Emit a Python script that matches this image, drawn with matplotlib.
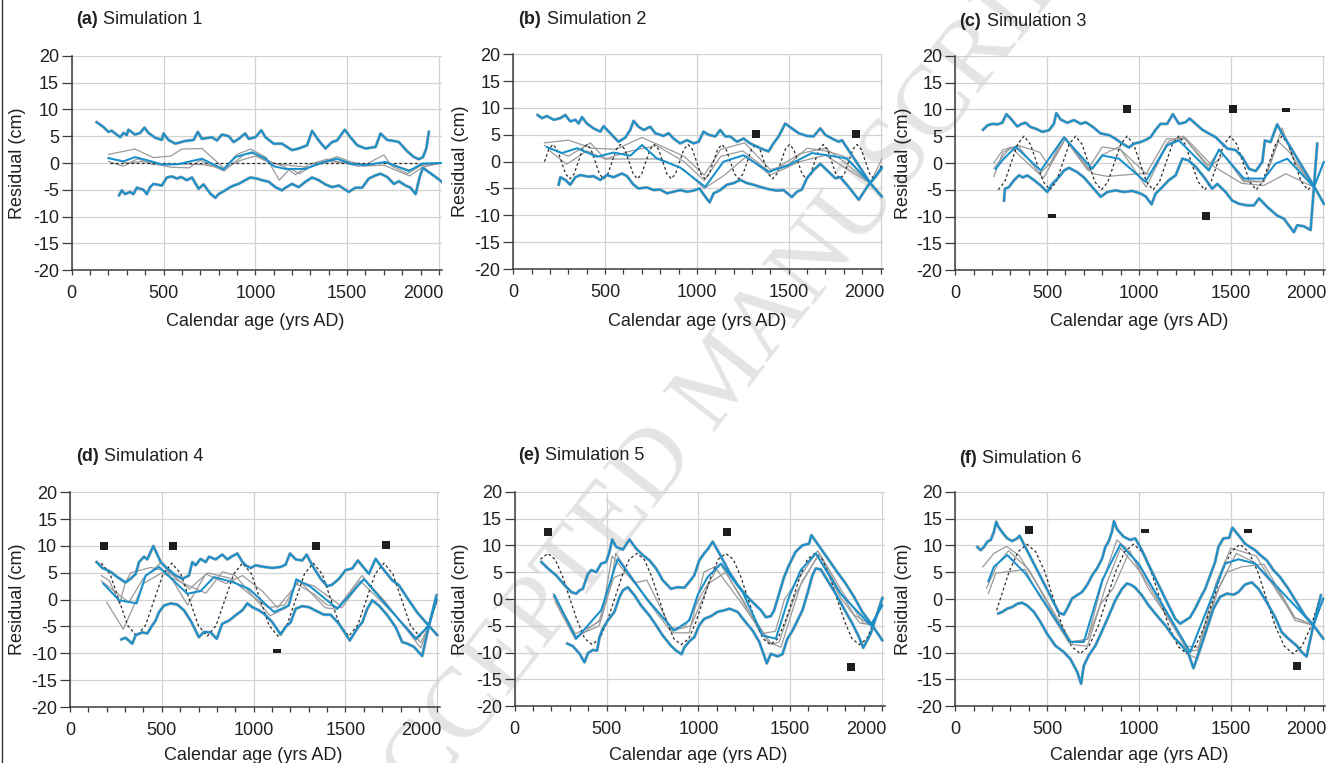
import matplotlib
matplotlib.use("Agg")
import matplotlib.pyplot as plt
from matplotlib.lines import Line2D

plt.rcParams['font.family'] = ['Liberation Sans', 'DejaVu Sans']
plt.rcParams['axes.unicode_minus'] = False

# ---------------------------------------------------------------- data
# (a) Simulation 1
a_up_yr = [136,173,200,218,264,282,300,309,345,373,396,418,455,491,500,527,564,618,664,687,709,764,791,818,855,882,909,945,964,1000,1033,1055,1100,1145,1200,1236,1282,1309,1345,1382,1418,1445,1487,1518,1555,1600,1655,1682,1718,1755,1782,1827,1864,1891,1913,1931,1945]
a_up_cm = [7.6,6.7,5.8,6.0,4.8,5.6,5.2,6.2,5.3,5.6,6.6,5.6,4.7,4.3,5.5,4.3,3.6,4.1,4.3,5.8,4.5,4.8,4.2,5.3,5.0,3.9,4.5,5.5,4.5,4.8,6.1,4.8,3.6,3.6,2.4,2.7,3.3,6.0,4.2,2.7,3.9,4.2,6.2,4.8,3.3,2.7,3.0,5.5,4.3,4.1,3.9,2.2,1.1,0.7,1.1,2.7,5.8]
a_lo_yr = [258,273,291,318,336,355,391,409,427,445,491,518,545,573,596,627,655,691,718,755,782,800,836,858,882,909,945,973,1009,1036,1073,1109,1145,1164,1200,1236,1273,1309,1345,1382,1418,1455,1509,1545,1582,1618,1655,1682,1718,1755,1782,1818,1845,1873,1895,1913,1945,1982,2015]
a_lo_cm = [-6.0,-5.1,-5.8,-5.4,-5.8,-4.6,-5.0,-5.8,-4.5,-3.9,-4.2,-2.7,-2.5,-2.9,-2.6,-3.2,-2.7,-4.8,-4.0,-5.7,-6.5,-5.8,-5.1,-4.6,-4.2,-3.9,-3.2,-2.7,-2.9,-3.2,-3.5,-4.5,-5.1,-4.6,-3.9,-4.5,-3.5,-2.7,-3.2,-4.0,-4.5,-4.2,-5.4,-4.6,-4.6,-2.9,-2.3,-2.0,-2.6,-3.9,-3.4,-4.2,-4.6,-5.8,-2.6,-0.9,-1.7,-2.6,-3.5]
a_mid_yr = [200,282,345,445,491,582,709,827,891,982,1055,1100,1164,1273,1345,1445,1527,1600,1709,1836,1909,2015]
a_mid_cm = [0.9,0.3,1.1,0.2,-0.3,-0.2,0.8,-1.2,1.1,2.0,0.8,-0.6,-1.1,-1.1,-0.1,0.8,-0.2,-0.4,0.2,-1.5,-0.1,0.0]
a_g1_yr = [200,345,445,540,600,710,830,900,975,1060,1130,1190,1240,1310,1350,1445,1520,1600,1700,1740,1830,1900,2015]
a_g1_cm = [1.6,2.6,1.0,1.3,2.6,2.7,-1.0,1.6,2.6,1.0,-3.2,-1.0,-2.0,-0.5,0.0,1.2,0.2,-0.3,1.5,-0.5,-2.0,-0.5,0.0]
a_g2_yr = [200,300,400,540,640,700,830,940,990,1070,1160,1220,1290,1390,1460,1560,1700,1840,1910,2015]
a_g2_cm = [1.0,0.0,0.3,-0.8,-0.9,0.5,-1.5,1.6,1.8,0.4,-0.7,-2.2,-0.3,0.7,0.2,-0.6,-0.4,-2.4,-0.8,0.0]
a_g3_yr = [200,280,360,440,560,620,710,830,920,1000,1080,1200,1300,1400,1500,1600,1700,1840,1920,2015]
a_g3_cm = [0.3,-0.6,0.8,-0.3,-0.3,-0.2,-0.3,-1.0,0.5,1.3,0.0,-0.5,-0.8,0.3,0.0,-0.3,0.1,-1.3,-0.3,0.0]
a_true_yr = [210, 2000]
a_true_cm = [0.0, 0.0]
a_sq_yr, a_sq_cm = [], []
a_bar_yr, a_bar_cm = [], []

# (b) Simulation 2
b_up_yr = [132,156,183,220,256,283,310,338,356,374,401,437,474,492,528,573,610,637,655,682,710,746,773,818,846,873,909,946,982,1009,1036,1064,1100,1127,1154,1181,1218,1254,1290,1345,1390,1417,1445,1481,1517,1554,1599,1635,1672,1699,1736,1772,1790,1944,2007]
b_up_cm = [8.7,8.1,8.5,7.8,8.1,8.7,7.5,7.8,7.1,8.3,7.1,6.2,5.6,6.6,5.3,3.7,4.5,5.9,7.6,6.5,5.9,6.5,5.3,4.8,5.3,4.3,3.4,4.0,3.4,3.7,5.6,5.0,4.7,5.9,4.7,4.7,3.7,4.3,3.4,2.5,1.9,3.4,4.7,7.1,6.2,5.3,4.8,4.7,6.2,5.0,4.3,3.7,4.0,-4.0,-6.5]
b_lo_yr = [247,256,283,310,338,365,410,437,474,510,546,592,619,655,682,728,764,800,837,873,909,946,982,1014,1045,1069,1091,1127,1163,1200,1236,1272,1308,1354,1399,1435,1472,1517,1545,1571,1599,1635,1672,1708,1754,1781,1826,1881,1935,1972,2007]
b_lo_cm = [-4.3,-2.9,-3.4,-4.3,-2.9,-2.5,-2.8,-2.7,-3.4,-2.5,-2.9,-2.2,-2.7,-4.3,-5.0,-4.8,-5.3,-5.2,-5.9,-5.6,-5.3,-5.6,-5.4,-5.0,-6.5,-7.6,-5.9,-5.3,-4.3,-4.0,-3.4,-4.0,-4.3,-4.8,-5.2,-5.4,-5.3,-6.6,-5.6,-5.2,-3.1,-1.6,-0.4,-1.6,-3.1,-2.9,-4.7,-7.1,-4.3,-2.8,-1.1]
b_mid_yr = [183,265,347,456,546,637,701,782,909,1045,1145,1254,1390,1490,1626,1708,1817,1944,2007]
b_mid_cm = [2.7,1.6,2.5,0.9,1.7,1.1,3.1,0.6,-1.1,-4.7,0.0,1.2,-1.9,-0.8,1.6,1.2,0.6,-4.0,-1.2]
b_g1_yr = [170,300,430,560,700,800,930,1040,1130,1260,1400,1500,1600,1700,1800,1944,2007]
b_g1_cm = [3.5,4.0,2.5,2.3,4.5,3.0,1.0,-2.5,2.3,3.5,-1.5,-0.5,2.5,2.0,1.0,-4.0,0.5]
b_g2_yr = [170,300,420,500,640,780,930,1040,1130,1250,1400,1560,1700,1800,1944,2007]
b_g2_cm = [3.0,1.0,3.5,0.5,2.0,3.0,0.0,-3.5,1.0,2.0,-2.0,1.5,2.5,0.0,-4.0,-1.0]
b_g3_yr = [200,290,400,500,620,800,930,1040,1150,1270,1400,1560,1700,1800,1944,2007]
b_g3_cm = [2.0,-0.5,2.0,0.5,0.5,0.5,-1.5,-5.0,-2.5,1.0,-2.5,0.0,1.2,-1.0,-4.0,-1.5]
b_true_yr = [170,193,216,239,262,285,308,331,354,377,400,423,446,469,492,515,
             538,561,584,607,630,653,676,699,722,745,768,791,814,837,860,883,
             906,929,952,975,998,1021,1044,1067,1090,1113,1136,1159,1182,1205,1228,1251,
             1274,1297,1320,1343,1366,1389,1412,1435,1458,1481,1504,1527,1550,1573,1596,1619,
             1642,1665,1688,1711,1734,1757,1780,1803,1826,1849,1872,1895,1918,1941,1964,1987,2005]
b_true_cm = [0,2.3,3.2,2.3,0,-2.3,-3.2,-2.3, 0,2.3,3.2,2.3,0,-2.3,-3.2,-2.3,
             0,2.3,3.2,2.3,0,-2.3,-3.2,-2.3, 0,2.3,3.2,2.3,0,-2.3,-3.2,-2.3,
             0,2.3,3.2,2.3,0,-2.3,-3.2,-2.3, 0,2.3,3.2,2.3,0,-2.3,-3.2,-2.3,
             0,2.3,3.2,2.3,0,-2.3,-3.2,-2.3, 0,2.3,3.2,2.3,0,-2.3,-3.2,-2.3,
             0,2.3,3.2,2.3,0,-2.3,-3.2,-2.3, 0,2.3,3.2,2.3,0,-2.3,-3.2,-2.3,-0.6]
b_sq_yr = [1323, 1867]
b_sq_cm = [5.1, 5.1]
b_bar_yr, b_bar_cm = [], []

# (c) Simulation 3
c_up_yr = [151,175,202,229,256,278,301,338,361,383,410,438,474,510,537,550,574,610,646,683,710,746,792,837,873,910,946,973,1009,1036,1063,1091,1118,1154,1185,1218,1254,1276,1309,1345,1381,1418,1454,1481,1527,1563,1600,1636,1672,1686,1717,1753,1780,1953,2007]
c_up_cm = [6.2,7.0,7.3,7.2,7.5,9.1,8.3,6.8,7.3,7.5,6.7,6.4,5.8,6.1,7.3,9.3,8.1,7.5,8.0,7.3,7.6,6.8,5.5,5.2,4.5,3.6,2.9,3.6,3.9,4.3,4.8,6.2,7.3,7.3,9.1,7.3,7.6,8.3,7.3,6.2,5.5,4.8,3.6,2.7,2.4,1.1,-1.1,-1.5,0.2,4.2,3.9,7.2,5.5,-4.3,-7.6]
c_lo_yr = [265,270,292,320,347,369,392,429,465,501,528,565,592,619,664,701,746,792,828,873,918,964,1009,1036,1069,1091,1127,1163,1200,1236,1269,1309,1354,1399,1427,1472,1508,1545,1590,1626,1654,1699,1753,1790,1844,1862,1899,1935,1953,1971]
c_lo_cm = [-7.0,-4.8,-4.5,-3.2,-2.3,-2.7,-2.3,-3.2,-4.2,-5.4,-3.9,-2.6,-1.4,-0.9,-1.7,-2.7,-4.5,-6.3,-5.4,-5.1,-5.4,-5.2,-5.7,-6.2,-7.7,-5.7,-4.5,-3.2,-2.3,0.8,0.5,-0.7,-2.6,-4.8,-3.9,-5.4,-7.0,-7.6,-7.9,-7.9,-6.6,-8.2,-9.8,-10.4,-12.9,-11.6,-11.8,-12.5,-4.5,3.6]
c_mid_yr = [220,256,329,465,592,746,801,891,1036,1154,1218,1381,1436,1572,1681,1745,1808,1953,2007]
c_mid_cm = [-1.1,0.5,3.0,-1.4,4.8,-1.1,1.4,0.8,-3.5,3.3,4.2,-1.4,2.5,-2.9,-2.9,-0.1,0.8,-4.5,0.2]
c_g1_yr = [210,260,350,460,510,590,720,800,900,1040,1150,1250,1380,1440,1570,1680,1760,1820,1953,2007]
c_g1_cm = [0.0,2.5,3.2,2.0,-0.5,4.8,-1.3,3.0,2.5,-2.0,4.5,4.5,-0.5,2.5,-3.5,-3.5,4.0,2.0,-4.5,0.2]
c_g2_yr = [210,260,340,460,530,600,730,800,890,1040,1160,1240,1380,1460,1570,1680,1780,1850,1953,2007]
c_g2_cm = [-2.5,2.0,3.3,-2.0,0.5,4.7,-1.5,1.5,3.0,-4.5,4.0,5.0,-1.0,1.5,-3.2,-3.5,6.5,0.0,-4.5,0.2]
c_g3_yr = [210,300,480,600,750,830,1000,1060,1150,1250,1400,1560,1680,1800,1953,2007]
c_g3_cm = [-1.0,3.0,-2.8,4.5,-2.0,-2.5,-2.0,-2.0,3.5,4.8,-0.5,-3.8,-4.2,-2.0,-4.5,0.2]
c_true_yr = [234,269,304,339,374,409,444,479,515,550,585,620,655,690,725,760,
             796,831,866,901,936,971,1006,1041,1077,1112,1147,1182,1217,1252,1287,1322,
             1358,1393,1428,1463,1498,1533,1568,1603,1639,1674,1709,1744,1779,1814,1849,1884,1920,1950]
c_true_cm = [-5,-3.5,0,3.5,5,3.5,0,-3.5, -5,-3.5,0,3.5,5,3.5,0,-3.5,
             -5,-3.5,0,3.5,5,3.5,0,-3.5, -5,-3.5,0,3.5,5,3.5,0,-3.5,
             -5,-3.5,0,3.5,5,3.5,0,-3.5, -5,-3.5,0,3.5,5,3.5,0,-3.5,-5,-4.0]
c_sq_yr = [936, 1510, 1363]
c_sq_cm = [10.0, 10.0, -9.9]
c_bar_yr = [1802, 528]
c_bar_cm = [9.8, -9.9]

# (d) Simulation 4
d_up_yr = [145,176,221,258,303,330,358,376,403,421,454,494,530,575,612,648,666,684,711,739,757,793,829,857,884,911,938,956,984,1011,1056,1102,1147,1174,1198,1229,1265,1289,1319,1365,1401,1428,1465,1501,1537,1568,1601,1628,1664,1710,1755,1791,1837,1891,1937,2000]
d_up_cm = [7.0,5.9,5.2,4.2,3.2,3.9,4.8,7.0,8.0,7.5,10.0,7.0,5.8,4.5,3.9,4.5,7.0,6.4,7.6,7.0,8.0,7.5,8.4,7.5,8.1,8.6,7.1,6.4,5.9,6.4,6.1,5.9,6.1,6.5,8.6,7.5,7.3,8.4,6.4,3.9,2.5,2.8,3.9,5.5,5.8,7.3,5.9,4.8,7.6,5.5,3.6,2.7,0.3,-2.4,-4.2,-6.6]
d_lo_yr = [280,303,339,358,394,421,448,466,485,512,548,584,621,657,702,730,766,799,829,866,902,938,966,993,1029,1056,1102,1147,1174,1202,1229,1265,1301,1347,1383,1419,1465,1524,1564,1592,1619,1646,1682,1728,1773,1809,1837,1873,1918,1955,1996]
d_lo_cm = [-7.4,-7.1,-8.2,-6.6,-6.1,-6.3,-4.8,-3.9,-2.3,-1.1,-0.7,-0.9,-2.0,-3.9,-7.0,-6.0,-6.1,-7.3,-4.5,-3.9,-2.9,-2.0,-0.7,-1.4,-2.0,-2.6,-4.2,-6.5,-5.1,-4.2,-1.7,-1.2,-1.4,-2.2,-2.8,-2.8,-4.5,-7.6,-5.4,-4.2,-1.7,-0.1,-1.1,-2.9,-5.1,-7.9,-8.2,-8.8,-10.5,-4.8,0.8]
d_mid_yr = [181,267,363,412,485,639,711,784,884,975,1111,1192,1232,1310,1456,1601,1882,1955,1996]
d_mid_cm = [3.0,-0.1,-0.7,4.5,6.1,1.1,1.6,4.2,3.3,2.0,-2.3,-1.1,3.8,2.4,-1.7,3.8,-7.3,-4.8,0.1]
d_g1_yr = [170,215,270,300,330,440,535,650,750,870,980,1080,1170,1240,1330,1470,1590,1700,1820,1890,1955,2000]
d_g1_cm = [4.5,3.5,-0.8,3.0,5.0,6.0,5.2,2.0,5.0,4.0,1.0,-1.5,-1.0,3.5,2.5,-1.0,4.5,0.0,-5.0,-7.5,-4.8,0.0]
d_g2_yr = [170,320,400,500,640,740,850,940,1050,1130,1250,1390,1450,1580,1700,1830,1910,1955,2000]
d_g2_cm = [3.5,-0.5,4.0,7.0,-1.0,4.8,3.0,4.5,1.5,-1.5,3.5,-1.5,-1.8,3.5,-0.5,-5.0,-8.0,-4.8,0.0]
d_g3_yr = [200,290,330,400,500,620,740,830,900,1000,1090,1180,1230,1330,1400,1480,1600,1720,1820,1910,1955,2000]
d_g3_cm = [-0.5,-5.5,-2.5,3.0,5.0,3.0,1.2,5.2,4.5,0.5,-3.0,-1.5,3.0,1.0,-1.0,-1.5,4.0,-0.5,-5.0,-9.0,-4.8,0.0]
d_true_yr = [170,218,266,314,363,411,459,507, 555,603,651,699,748,796,844,892,
             940,988,1036,1084,1133,1181,1229,1277, 1325,1373,1421,1469,1518,1566,1614,1662,
             1710,1758,1806,1854,1903,1951,1999]
d_true_cm = [6.8,4.8,0,-4.8,-6.8,-4.8,0,4.8, 6.8,4.8,0,-4.8,-6.8,-4.8,0,4.8,
             6.8,4.8,0,-4.8,-6.8,-4.8,0,4.8, 6.8,4.8,0,-4.8,-6.8,-4.8,0,4.8,
             6.8,4.8,0,-4.8,-6.8,-4.8,0]
d_sq_yr = [186, 561, 1338, 1719]
d_sq_cm = [10.0, 10.0, 10.0, 10.1]
d_bar_yr = [1126]
d_bar_cm = [-9.6]

# (e) Simulation 5
e_up_yr = [145,181,226,271,308,335,353,371,399,417,444,471,498,516,531,553,589,625,661,697,734,770,806,851,887,924,951,978,1005,1032,1054,1078,1124,1169,1214,1259,1296,1341,1368,1395,1413,1440,1467,1494,1530,1567,1603,1616,1667,1712,1757,1802,1848,1893,1947,2002]
e_up_cm = [6.9,5.7,4.4,2.6,1.3,1.0,1.6,1.9,4.7,5.4,5.0,6.6,6.9,8.8,11.1,9.7,9.2,11.1,9.4,8.2,7.2,5.7,3.5,1.9,2.2,2.1,3.2,4.4,7.2,8.5,9.4,10.7,7.9,5.0,2.6,0.7,-0.6,-2.1,-3.4,-3.2,-2.1,1.0,4.1,6.3,8.8,10.0,10.3,11.9,9.4,7.2,5.0,2.9,0.4,-2.4,-4.9,-7.7]
e_lo_yr = [286,317,353,380,399,425,449,462,480,507,543,571,589,616,652,688,734,770,806,851,878,909,924,951,978,1005,1032,1069,1105,1142,1169,1214,1250,1296,1332,1373,1395,1431,1458,1485,1513,1540,1567,1594,1621,1640,1667,1703,1748,1793,1839,1875,1898,1938,1965,2002]
e_lo_cm = [-8.3,-8.8,-10.2,-11.8,-10.1,-9.5,-9.6,-7.1,-5.5,-4.0,-2.4,0.4,1.6,2.2,0.7,-1.2,-3.1,-4.9,-6.8,-8.7,-9.6,-10.3,-9.0,-7.9,-7.1,-4.9,-3.7,-3.2,-2.4,-2.1,-1.8,-2.4,-4.0,-5.9,-8.0,-12.0,-10.2,-10.7,-10.3,-7.4,-5.9,-4.0,-2.1,1.0,4.4,5.7,5.5,3.5,1.0,-1.8,-4.6,-7.1,-9.1,-6.5,-3.7,0.2]
e_mid_yr = [217,335,471,561,724,869,951,996,1051,1124,1241,1350,1422,1494,1558,1640,1775,1938,2002]
e_mid_cm = [0.7,-7.4,-2.1,7.5,-0.2,-5.9,-4.0,0.7,4.1,6.6,1.3,-6.8,-7.4,0.4,5.4,8.5,1.0,-4.9,-1.2]
e_g1_yr = [210,330,420,470,530,650,720,800,860,950,1030,1120,1250,1340,1420,1470,1580,1650,1760,1850,1950,2002]
e_g1_cm = [1.0,-6.5,-5.0,-4.0,8.0,3.0,3.5,-2.0,-6.3,-6.3,5.0,6.5,-0.5,-6.5,-6.0,0.0,5.5,9.0,2.0,-3.0,-5.0,-1.0]
e_g2_yr = [210,330,460,520,550,700,860,930,1020,1100,1240,1380,1450,1560,1660,1790,1900,1950,2002]
e_g2_cm = [0.5,-7.0,-5.0,2.0,8.5,1.0,-5.5,-5.0,1.0,5.5,-1.0,-8.0,-9.0,3.0,8.5,1.0,-4.5,-4.8,-1.0]
e_g3_yr = [220,330,460,540,610,760,850,960,1060,1150,1260,1400,1440,1530,1650,1780,1880,1950,2002]
e_g3_cm = [-0.5,-7.5,-4.0,4.0,5.0,-2.0,-6.0,-5.0,3.0,5.0,-1.5,-8.5,-8.0,1.0,8.0,0.0,-4.5,-4.8,-1.0]
e_true_yr = [140,180,220,261,301,342,382,422,463,503,544,584,624,
             665,705,746,786,827,867,907,948,988,1029,1069,1109,
             1150,1190,1231,1271,1312,1352,1392,1433,1473,1514,1554,1594,
             1635,1675,1716,1756,1797,1837,1877,1918,1958,1999]
e_true_cm = [7.4,8.5,7.4,4.2,0,-4.2,-7.4,-8.5,-7.4,-4.2,0,4.2,7.4,
             8.5,7.4,4.2,0,-4.2,-7.4,-8.5,-7.4,-4.2,0,4.2,7.4,
             8.5,7.4,4.2,0,-4.2,-7.4,-8.5,-7.4,-4.2,0,4.2,7.4,
             8.5,7.4,4.2,0,-4.2,-7.4,-8.5,-7.4,-4.2,0]
e_sq_yr = [181, 1154, 1829]
e_sq_cm = [12.4, 12.4, -12.6]
e_bar_yr, e_bar_cm = [], []

# (f) Simulation 6
f_up_yr = [120,138,156,175,193,210,223,234,256,283,310,337,350,565,591,609,636,663,690,718,745,772,799,817,835,853,864,881,917,953,980,1016,1062,1107,1153,1198,1225,1252,1279,1306,1333,1361,1388,1415,1433,1460,1491,1509,1542,1578,1605,1633,1660,1696,1732,1768,1814,1859,1904,1950,2004]
f_up_cm = [9.7,9.1,9.7,10.7,11.0,12.5,14.4,13.5,12.4,11.3,10.8,11.3,11.8,-2.6,-2.9,-1.8,0.1,0.7,1.3,2.6,4.4,5.7,7.5,9.7,10.7,12.5,14.5,13.0,11.6,11.0,11.3,9.1,5.7,2.6,-0.6,-3.7,-4.6,-4.0,-3.4,-1.8,0.1,1.9,4.4,6.9,9.7,11.3,11.4,13.3,11.9,10.3,9.7,9.1,8.2,7.2,5.4,4.1,1.9,-0.6,-3.1,-4.9,-7.4]
f_lo_yr = [234,256,283,310,337,364,391,428,464,500,545,591,627,664,685,700,727,763,800,836,872,908,935,959,980,1016,1053,1098,1143,1189,1234,1270,1297,1325,1352,1379,1406,1442,1479,1515,1542,1578,1615,1651,1696,1742,1778,1814,1859,1887,1913,1950,1991]
f_lo_cm = [-2.7,-2.4,-1.8,-1.5,-0.9,-0.7,-1.2,-2.4,-4.3,-6.5,-8.7,-9.9,-11.2,-13.6,-15.8,-12.4,-10.5,-8.7,-5.9,-3.1,-0.2,1.9,2.9,2.6,2.1,0.7,-1.2,-3.1,-4.9,-7.1,-8.7,-10.2,-12.9,-10.2,-7.4,-4.6,-1.8,0.4,1.0,0.8,1.3,2.7,3.1,1.9,-0.6,-3.4,-6.2,-7.4,-8.7,-9.9,-10.7,-4.9,0.7]
f_mid_yr = [180,210,283,383,627,700,800,899,998,1279,1470,1542,1633,1950,2004]
f_mid_cm = [3.3,6.0,8.2,4.7,-8.0,-8.0,3.5,10.2,6.6,-9.9,6.6,7.4,6.6,-4.9,0.1]
f_g1_yr = [150,210,280,350,440,620,720,800,880,930,1050,1270,1320,1420,1500,1640,1750,1850,1950,2004]
f_g1_cm = [6.0,8.5,9.8,8.0,3.0,-8.0,-7.5,3.0,11.0,9.5,3.5,-9.8,-9.5,3.0,9.5,8.0,1.5,-3.5,-4.9,0.0]
f_g2_yr = [170,230,290,400,640,720,820,900,1020,1280,1310,1440,1530,1620,1760,1850,1950,2004]
f_g2_cm = [2.0,6.5,9.0,5.5,-8.5,-8.8,2.5,9.5,4.5,-10.5,-11.0,2.5,8.5,7.0,1.5,-4.0,-4.9,0.0]
f_g3_yr = [180,220,380,450,620,720,790,860,950,1050,1260,1330,1420,1480,1560,1680,1850,1950,2004]
f_g3_cm = [1.0,4.8,5.5,1.0,-8.2,-7.5,-1.0,2.0,9.0,2.0,-8.8,-9.0,1.0,5.0,6.0,6.5,-3.5,-4.9,0.0]
f_true_yr = [225,245,293,342,390,438,487,535, 583,632,680,728,777,825,873,922,
             970,1018,1067,1115,1163,1212,1260,1308, 1357,1405,1453,1502,1550,1598,1647,1695,
             1743,1792,1840,1888,1937,1985]
f_true_cm = [-2.1,0,5.1,8.8,10.2,8.8,5.1,0, -5.1,-8.8,-10.2,-8.8,-5.1,0,5.1,8.8,
             10.2,8.8,5.1,0,-5.1,-8.8,-10.2,-8.8, -5.1,0,5.1,8.8,10.2,8.8,5.1,0,
             -5.1,-8.8,-10.2,-8.8,-5.1,0]
f_sq_yr = [401, 1859]
f_sq_cm = [12.9, -12.5]
f_bar_yr = [1035, 1596]
f_bar_cm = [12.6, 12.6]

x_major = [0, 500, 1000, 1500, 2000]
x_labels = ['0', '500', '1000', '1500', '2000']
y_major = [-20, -15, -10, -5, 0, 5, 10, 15, 20]

# ---------------------------------------------------------------- style
BLUE = '#1790cc'
HALO = '#ababab'
MODEL = '#9a9a9a'
DASH = '#2b2b2b'
GRID = '#d2d2d2'
AXC = '#3c3c3c'
TXT = '#231f20'
FS = 13
TICK_LEN_X, TICK_PAD_X = 3.8, 7.0

W, H = 1333, 763
fig = plt.figure(figsize=(W / 100, H / 100), dpi=100)
fig.patch.set_facecolor('white')

# thin frame rule on the left edge of the page
fig.add_artist(Line2D([1.5 / W, 1.5 / W], [0, 1], color='#333333', lw=1.0))

# faint diagonal stamp running across the page, behind the panels
fig.text(725 / W, 1 - 378 / H, 'ACCEPTED MANUSCRIPT', fontsize=72,
         family=['Liberation Serif', 'DejaVu Serif'], color='#e4e4e4',
         rotation=52, rotation_mode='anchor', ha='center', va='center', zorder=-5)

BAR = [(-1, -0.45), (1, -0.45), (1, 0.45), (-1, 0.45), (-1, -0.45)]

panels = [
    dict(tag='(a)', name='Simulation 1', box=(71.7, 55.7, 270.3), title=(76, 20), ylab=18, xlab_y=321,
         up=(a_up_yr, a_up_cm), lo=(a_lo_yr, a_lo_cm), mid=(a_mid_yr, a_mid_cm),
         models=[(a_g1_yr, a_g1_cm), (a_g2_yr, a_g2_cm), (a_g3_yr, a_g3_cm)],
         true=(a_true_yr, a_true_cm), sq=(a_sq_yr, a_sq_cm), bar=(a_bar_yr, a_bar_cm)),
    dict(tag='(b)', name='Simulation 2', box=(513.3, 54.3, 269.0), title=(518.3, 19), ylab=461, xlab_y=321,
         up=(b_up_yr, b_up_cm), lo=(b_lo_yr, b_lo_cm), mid=(b_mid_yr, b_mid_cm),
         models=[(b_g1_yr, b_g1_cm), (b_g2_yr, b_g2_cm), (b_g3_yr, b_g3_cm)],
         true=(b_true_yr, b_true_cm), sq=(b_sq_yr, b_sq_cm), bar=(b_bar_yr, b_bar_cm)),
    dict(tag='(c)', name='Simulation 3', box=(955.3, 55.7, 270.3), title=(959.3, 21), ylab=904, xlab_y=321,
         up=(c_up_yr, c_up_cm), lo=(c_lo_yr, c_lo_cm), mid=(c_mid_yr, c_mid_cm),
         models=[(c_g1_yr, c_g1_cm), (c_g2_yr, c_g2_cm), (c_g3_yr, c_g3_cm)],
         true=(c_true_yr, c_true_cm), sq=(c_sq_yr, c_sq_cm), bar=(c_bar_yr, c_bar_cm)),
    dict(tag='(d)', name='Simulation 4', box=(70.0, 492.3, 707.0), title=(76, 456.7), ylab=17.5, xlab_y=756,
         up=(d_up_yr, d_up_cm), lo=(d_lo_yr, d_lo_cm), mid=(d_mid_yr, d_mid_cm),
         models=[(d_g1_yr, d_g1_cm), (d_g2_yr, d_g2_cm), (d_g3_yr, d_g3_cm)],
         true=(d_true_yr, d_true_cm), sq=(d_sq_yr, d_sq_cm), bar=(d_bar_yr, d_bar_cm)),
    dict(tag='(e)', name='Simulation 5', box=(514.7, 491.7, 706.3), title=(517.7, 456), ylab=460.7, xlab_y=756,
         up=(e_up_yr, e_up_cm), lo=(e_lo_yr, e_lo_cm), mid=(e_mid_yr, e_mid_cm),
         models=[(e_g1_yr, e_g1_cm), (e_g2_yr, e_g2_cm), (e_g3_yr, e_g3_cm)],
         true=(e_true_yr, e_true_cm), sq=(e_sq_yr, e_sq_cm), bar=(e_bar_yr, e_bar_cm)),
    dict(tag='(f)', name='Simulation 6', box=(955.3, 491.7, 706.3), title=(959, 458.3), ylab=904, xlab_y=756,
         up=(f_up_yr, f_up_cm), lo=(f_lo_yr, f_lo_cm), mid=(f_mid_yr, f_mid_cm),
         models=[(f_g1_yr, f_g1_cm), (f_g2_yr, f_g2_cm), (f_g3_yr, f_g3_cm)],
         true=(f_true_yr, f_true_cm), sq=(f_sq_yr, f_sq_cm), bar=(f_bar_yr, f_bar_cm)),
]

XMAX = 2015
AX_W = 370.0

renderer = fig.canvas.get_renderer()

for p in panels:
    for key in ('up', 'lo', 'mid', 'true', 'sq', 'bar'):
        assert len(p[key][0]) == len(p[key][1]), (p['tag'], key)
    for m in p['models']:
        assert len(m[0]) == len(m[1]), (p['tag'], 'model')

    left, top, bottom = p['box']
    ax = fig.add_axes([left / W, 1 - bottom / H, AX_W / W, (bottom - top) / H])
    ax.set_xlim(0, XMAX)
    ax.set_ylim(-20, 20)
    ax.patch.set_alpha(0.0)

    # noisy envelope traces (grey) underneath the smoothed envelopes
    for xs, ys in (p['up'], p['lo']):
        ax.plot(xs, ys, color=HALO, lw=2.2, solid_joinstyle='round', zorder=2)
    for xs, ys in p['models']:
        ax.plot(xs, ys, color=MODEL, lw=0.9, zorder=3)
    ax.plot(p['true'][0], p['true'][1], color=DASH, lw=0.9, ls=(0, (2.2, 2.0)), zorder=4)
    for xs, ys in (p['up'], p['lo'], p['mid']):
        ax.plot(xs, ys, color=BLUE, lw=1.45, solid_joinstyle='round', zorder=5)
    if p['sq'][0]:
        ax.plot(p['sq'][0], p['sq'][1], ls='none', marker='s', ms=6.3, mew=0, color='#1e1e1e', zorder=6)
    if p['bar'][0]:
        ax.plot(p['bar'][0], p['bar'][1], ls='none', marker=BAR, ms=6.3, mew=0, color='#1e1e1e', zorder=6)

    ax.set_xticks(x_major)
    ax.set_xticklabels(x_labels[:-1] + [''])
    ax.set_xticks(list(range(0, 2001, 100)), minor=True)
    ax.set_yticks(y_major)
    ax.set_yticklabels([str(v) for v in y_major])
    ax.grid(True, which='major', color=GRID, lw=0.9)
    ax.set_axisbelow(True)
    for s in ('top', 'right'):
        ax.spines[s].set_visible(False)
    for s in ('left', 'bottom'):
        ax.spines[s].set_color(AXC)
        ax.spines[s].set_linewidth(1.1)
    ax.tick_params(axis='x', which='both', direction='out', length=TICK_LEN_X, width=0.9,
                   color=AXC, pad=TICK_PAD_X, labelsize=FS, labelcolor=TXT)
    ax.tick_params(axis='y', which='both', direction='out', length=7, width=0.9,
                   color=AXC, pad=2.2, labelsize=FS, labelcolor=TXT)
    # last x label sits flush against the end of the axis
    ax.annotate(x_labels[-1], xy=(x_major[-1], 0), xycoords=('data', 'axes fraction'),
                xytext=(3, -(TICK_LEN_X + TICK_PAD_X)), textcoords='offset points',
                ha='right', va='top', fontsize=FS, color=TXT)

    # panel heading: bold tag followed by plain name
    tx, ty = p['title']
    t1 = fig.text(tx / W, 1 - ty / H, p['tag'], fontsize=FS, fontweight='bold',
                  color=TXT, ha='left', va='center')
    bb = t1.get_window_extent(renderer)
    fig.text((bb.x1 + 5.5) / W, 1 - ty / H, p['name'], fontsize=FS, color=TXT,
             ha='left', va='center')

    fig.text(p['ylab'] / W, 1 - (top + bottom) / 2 / H, 'Residual (cm)', rotation=90,
             fontsize=FS, color=TXT, ha='center', va='center')
    xc = left + 1000 / XMAX * AX_W
    fig.text(xc / W, 1 - p['xlab_y'] / H, 'Calendar age (yrs AD)', fontsize=FS,
             color=TXT, ha='center', va='center')

fig.savefig('out.png', dpi=100, facecolor='white')
